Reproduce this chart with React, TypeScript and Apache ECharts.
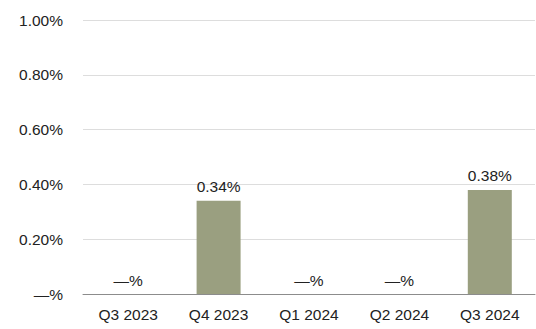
import React, { useEffect, useRef } from "react";
import * as echarts from "echarts";

const categories = ["Q3 2023", "Q4 2023", "Q1 2024", "Q2 2024", "Q3 2024"];
const values = [0, 0.34, 0, 0, 0.38];
const yTicks = [0, 0.2, 0.4, 0.6, 0.8, 1.0];

const fmt = (v: number) => (v === 0 ? "—%" : v.toFixed(2) + "%");
const FONT = "Liberation Sans, Arial, sans-serif";

export default function App() {
  const ref = useRef<HTMLDivElement>(null);
  useEffect(() => {
    if (!ref.current) return;
    const chart = echarts.init(ref.current, undefined, { renderer: "svg" });
    chart.setOption({
      animation: false,
      backgroundColor: "#ffffff",
      grid: { left: 83, right: 1, top: 20, bottom: 35 },
      xAxis: {
        type: "category",
        data: categories,
        axisTick: { show: false },
        axisLine: { lineStyle: { color: "#8c8c8c", width: 1 } },
        axisLabel: {
          color: "#222222",
          fontSize: 15.5,
          fontFamily: FONT,
          margin: 12,
        },
      },
      yAxis: {
        type: "value",
        min: yTicks[0],
        max: yTicks[yTicks.length - 1],
        interval: 0.2,
        axisLine: { show: false },
        axisTick: { show: false },
        splitLine: { lineStyle: { color: "#dddddd", width: 1 } },
        axisLabel: {
          color: "#222222",
          fontSize: 15.5,
          fontFamily: FONT,
          margin: 20,
          formatter: (v: number) => fmt(Math.round(v * 100) / 100),
        },
      },
      series: [
        {
          type: "bar",
          data: values,
          barWidth: 44,
          itemStyle: { color: "#9a9f80" },
          label: {
            show: true,
            position: "top",
            distance: 6,
            color: "#222222",
            fontSize: 15.5,
            fontFamily: FONT,
            formatter: (p: any) => fmt(p.value),
          },
        },
      ],
    });
    return () => chart.dispose();
  }, []);
  return (
    <div
      ref={ref}
      style={{ position: "fixed", left: 0, top: 0, width: 536, height: 329, background: "#fff" }}
    />
  );
}
